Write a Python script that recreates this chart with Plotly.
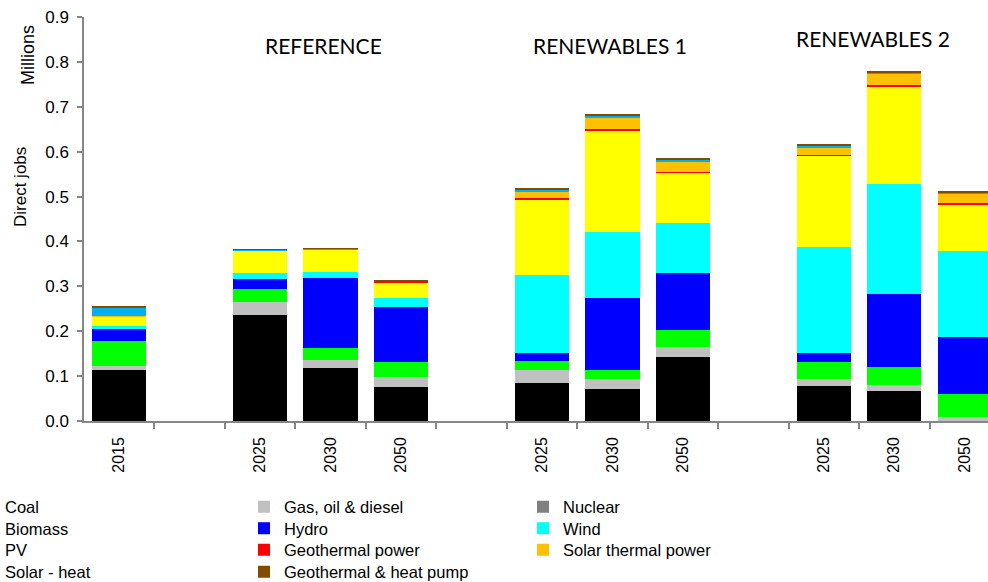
import plotly.graph_objects as go

categories = ["2015", "", "2025", "2030", "2050", "", "2025", "2030", "2050", "", "2025", "2030", "2050"]
scenarios = ["REFERENCE", "RENEWABLES 1", "RENEWABLES 2"]

coal = [0.113, None, 0.236, 0.118, 0.076, None, 0.084, 0.072, 0.142, None, 0.078, 0.066, 0.001]
gas = [0.010, None, 0.028, 0.018, 0.022, None, 0.030, 0.0215, 0.022, None, 0.0155, 0.014, 0.009]
nuclear = [0.0, None, 0.0, 0.0, 0.0, None, 0.0, 0.0, 0.0, None, 0.0, 0.0, 0.0]
biomass = [0.055, None, 0.030, 0.026, 0.034, None, 0.020, 0.0205, 0.0385, None, 0.0385, 0.040, 0.050]
hydro = [0.028, None, 0.022, 0.156, 0.122, None, 0.0185, 0.1605, 0.1275, None, 0.0185, 0.162, 0.1275]
wind = [0.005, None, 0.013, 0.014, 0.021, None, 0.173, 0.146, 0.1105, None, 0.2375, 0.246, 0.192]
pv = [0.022, None, 0.050, 0.049, 0.034, None, 0.168, 0.226, 0.112, None, 0.2025, 0.218, 0.1025]
geothermal_power = [0.0, None, 0.001, 0.001, 0.001, None, 0.004, 0.004, 0.003, None, 0.0025, 0.0025, 0.003]
solar_thermal_power = [0.0005, None, 0.0005, 0.0005, 0.0005, None, 0.013, 0.0245, 0.022, None, 0.0155, 0.0235, 0.022]
solar_heat = [0.019, None, 0.001, 0.001, 0.001, None, 0.005, 0.005, 0.0045, None, 0.005, 0.005, 0.003]
geothermal_heat_pump = [0.002, None, 0.001, 0.001, 0.001, None, 0.002, 0.002, 0.0025, None, 0.002, 0.002, 0.001]

series = [
    ("Coal", coal, "#000000"),
    ("Gas, oil & diesel", gas, "#C0C0C0"),
    ("Nuclear", nuclear, "#808080"),
    ("Biomass", biomass, "#00FF00"),
    ("Hydro", hydro, "#0000FF"),
    ("Wind", wind, "#00FFFF"),
    ("PV", pv, "#FFFF00"),
    ("Geothermal power", geothermal_power, "#FF0000"),
    ("Solar thermal power", solar_thermal_power, "#FFC000"),
    ("Solar - heat", solar_heat, "#00B0F0"),
    ("Geothermal & heat pump", geothermal_heat_pump, "#7F4C00"),
]

x = list(range(len(categories)))
year_idx = [i for i, c in enumerate(categories) if c]
boundaries = [i + 0.5 for i in range(len(categories) - 1)]

legend_names = ["legend", "legend2", "legend3", "legend4"]

fig = go.Figure()
for k, (name, vals, col) in enumerate(series):
    fig.add_trace(go.Bar(
        x=x, y=vals, name=name, width=0.77,
        marker=dict(color=col, line=dict(width=0)),
        legend=legend_names[k // 3],
    ))

W, H = 988, 582
l, r, t, b = 84, 0, 17, 161
pw, ph = W - l - r, H - t - b

FONT = "Liberation Sans, Arial, sans-serif"
row_y = [507, 528.5, 550, 572]

legend_layout = {}
for name, py in zip(legend_names, row_y):
    legend_layout[name] = dict(
        orientation="h", x=(-35 - l) / pw, xanchor="left",
        y=(H - b - py) / ph, yanchor="middle",
        entrywidth=234, traceorder="normal",
        font=dict(family=FONT, size=16.5, color="#000000"),
        itemwidth=30, bgcolor="rgba(0,0,0,0)",
    )

fig.update_layout(
    width=W, height=H,
    barmode="stack",
    plot_bgcolor="white", paper_bgcolor="white",
    margin=dict(l=l, r=r, t=t, b=b, autoexpand=False),
    font=dict(family=FONT, size=16, color="#000000"),
    showlegend=True,
    xaxis=dict(
        range=[-0.5, 12.33], showgrid=False, zeroline=False,
        tickmode="array", tickvals=year_idx, ticktext=[categories[i] for i in year_idx],
        tickangle=-90, ticks="", ticklabelstandoff=8,
        tickfont=dict(family=FONT, size=16, color="#000000"),
        showline=True, linecolor="#868686", linewidth=1.5,
        minor=dict(tickmode="array", tickvals=boundaries, ticks="outside",
                   ticklen=6, tickcolor="#868686", tickwidth=1.5),
    ),
    yaxis=dict(
        range=[0, 0.9], dtick=0.1, tickformat=".1f", showgrid=False, zeroline=False,
        ticks="outside", ticklen=5, tickcolor="#868686", tickwidth=1.5,
        showline=True, linecolor="#868686", linewidth=1.5, ticklabelstandoff=5,
        tickfont=dict(family=FONT, size=17, color="#000000"),
    ),
    **legend_layout,
)

ann_x = [2.9, 6.97, 10.7]
ann_y = [0.837, 0.837, 0.852]
for s, ax_, ay_ in zip(scenarios, ann_x, ann_y):
    fig.add_annotation(x=ax_, y=ay_, xref="x", yref="y", text=s, showarrow=False,
                       xanchor="center", yanchor="middle",
                       font=dict(family="Lato, Open Sans, sans-serif", size=21, color="#000000"))

# axis titles placed by pixel position converted to paper coordinates
for txt, px, py, fs in [("Direct jobs", 20, 187, 17), ("Millions", 28, 55, 18)]:
    fig.add_annotation(x=(px - l) / pw, y=(H - b - py) / ph, xref="paper", yref="paper",
                       text=txt, showarrow=False, textangle=-90,
                       xanchor="center", yanchor="middle",
                       font=dict(family=FONT, size=fs, color="#000000"))

fig.write_html("out.html",
               config={"displayModeBar": False},
               post_script="document.body.style.margin='0';document.body.style.overflow='hidden';")
